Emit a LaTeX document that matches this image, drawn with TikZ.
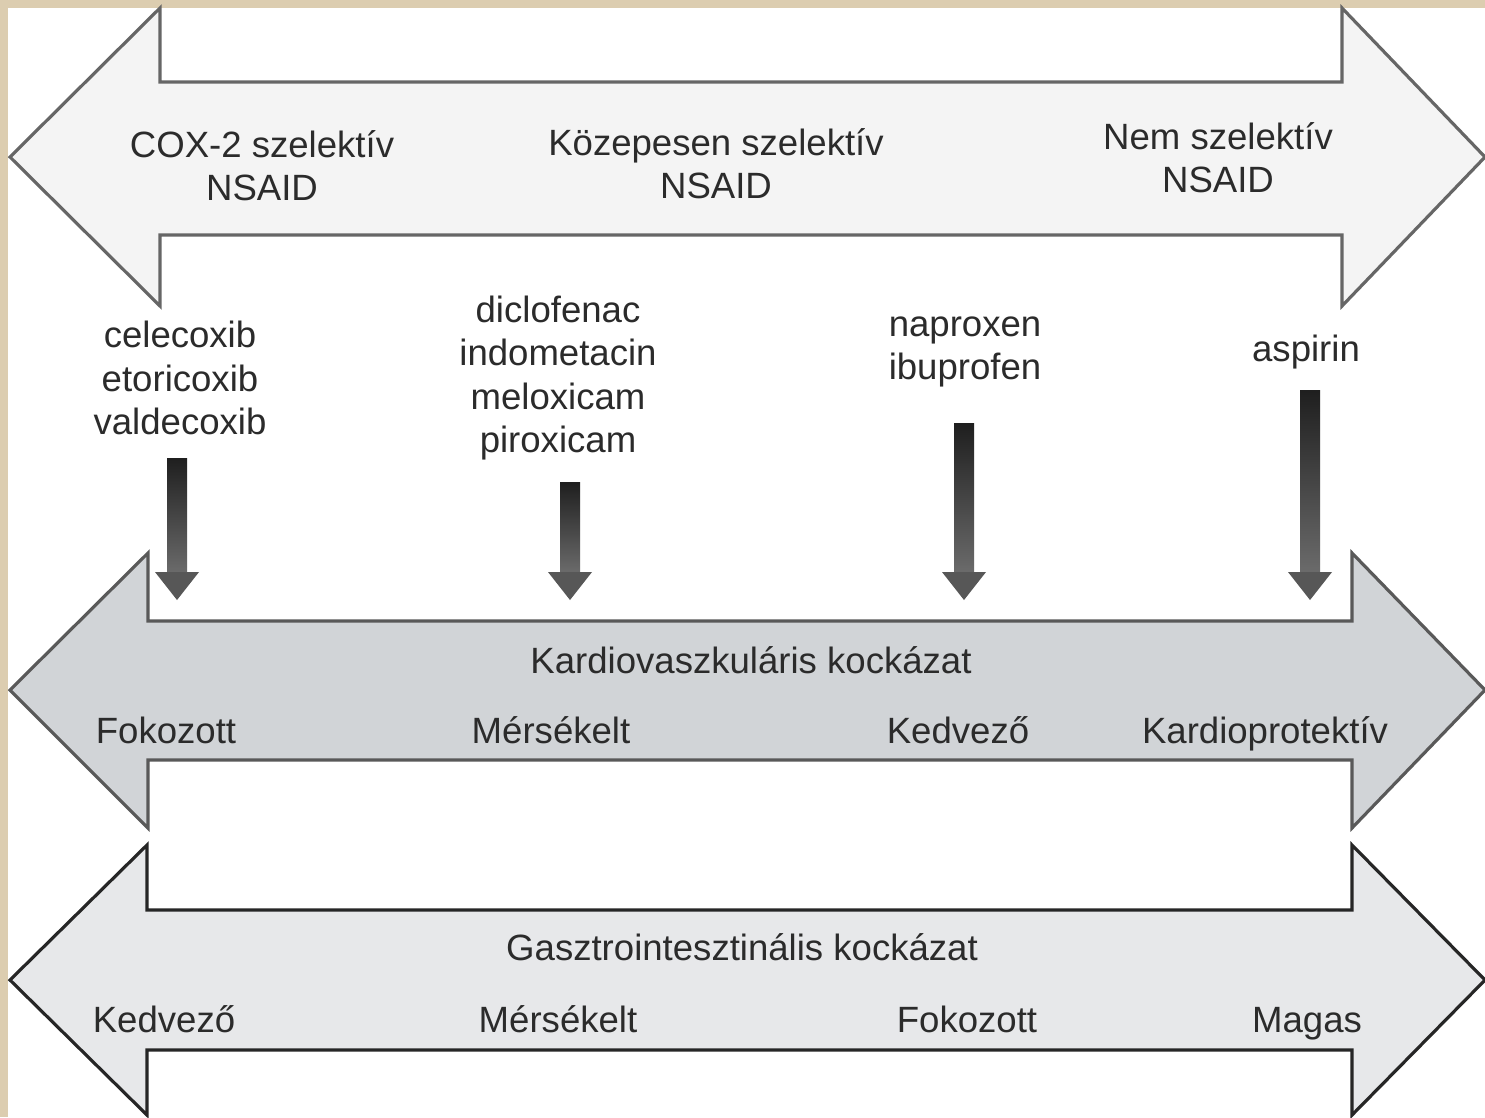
\documentclass[tikz,border=0pt]{standalone}
\usepackage{fontspec}
\setmainfont{Liberation Sans}
\definecolor{paper}{HTML}{DCCDB0}
\definecolor{topfill}{HTML}{F4F4F4}
\definecolor{midfill}{HTML}{D1D4D7}
\definecolor{lowfill}{HTML}{E7E8EA}
\definecolor{inkgray}{HTML}{2B2B2B}
\tikzset{
  bigarrow/.style={line width=0.9pt, line join=miter},
  lbl/.style={align=center, inner sep=0pt, text=inkgray,
    font=\fontsize{10.4}{12.3}\selectfont},
  oneline/.style={lbl, text height=0.73em, text depth=0pt},
  shaftfill/.style={top color=black!88, bottom color=black!58, draw=none},
  headfill/.style={fill=black!66, draw=none},
}
\begin{document}
\begin{tikzpicture}[x=0.01cm,y=-0.01cm]
	\useasboundingbox (0,0) rectangle (1485,1117);
	\clip (0,0) rectangle (1485,1117);
	\fill[paper] (0,0) rectangle (1485,1117);
	\fill[white] (8,8) rectangle (1485,1117);

	% the three double arrows
	\filldraw[bigarrow, fill=topfill, draw=black!60]
		(10,157) -- (160,8) -- (160,82) -- (1342,82) -- (1342,8) -- (1485,157)
		-- (1342,306) -- (1342,235) -- (160,235) -- (160,306) -- cycle;
	\filldraw[bigarrow, fill=midfill, draw=black!65]
		(10,690) -- (148,553) -- (148,621) -- (1352,621) -- (1352,553) -- (1485,690)
		-- (1352,828) -- (1352,760) -- (148,760) -- (148,828) -- cycle;
	\filldraw[bigarrow, fill=lowfill, draw=black!85]
		(10,980) -- (147,845) -- (147,910) -- (1352,910) -- (1352,845) -- (1485,980)
		-- (1352,1115) -- (1352,1050) -- (147,1050) -- (147,1115) -- cycle;

	% selectivity
	\node[lbl] (cox) at (262,166) {COX-2 szelektív\\NSAID};
	\node[lbl] (mid) at (716,164) {Közepesen szelektív\\NSAID};
	\node[lbl] (non) at (1218,158) {Nem szelektív\\NSAID};

	% drugs
	\node[lbl] (coxibs) at (180,378) {celecoxib\\etoricoxib\\valdecoxib};
	\node[lbl] (diclo) at (558,378) {diclofenac\\indometacin\\meloxicam\\piroxicam};
	\node[lbl] (napro) at (965,352) {naproxen\\ibuprofen};
	\node[oneline] (aspi) at (1306,349) {aspirin};

	% shaded pointers
	\foreach \x/\ytop in {177/458, 570/482, 964/423, 1310/390}{
		\fill[shaftfill] (\x-10,\ytop) rectangle (\x+10,573);
		\fill[headfill] (\x-22,572) -- (\x+22,572) -- (\x,600) -- cycle;
	}

	% cardiovascular risk
	\node[oneline] (cvrisk) at (751,661) {Kardiovaszkuláris kockázat};
	\node[oneline] (cv1) at (166,731) {Fokozott};
	\node[oneline] (cv2) at (551,731) {Mérsékelt};
	\node[oneline] (cv3) at (958,731) {Kedvező};
	\node[oneline] (cv4) at (1265,731) {Kardioprotektív};

	% gastrointestinal risk
	\node[oneline] (girisk) at (742,948) {Gasztrointesztinális kockázat};
	\node[oneline] (gi1) at (164,1020) {Kedvező};
	\node[oneline] (gi2) at (558,1020) {Mérsékelt};
	\node[oneline] (gi3) at (967,1020) {Fokozott};
	\node[oneline] (gi4) at (1307,1020) {Magas};
\end{tikzpicture}
\end{document}
